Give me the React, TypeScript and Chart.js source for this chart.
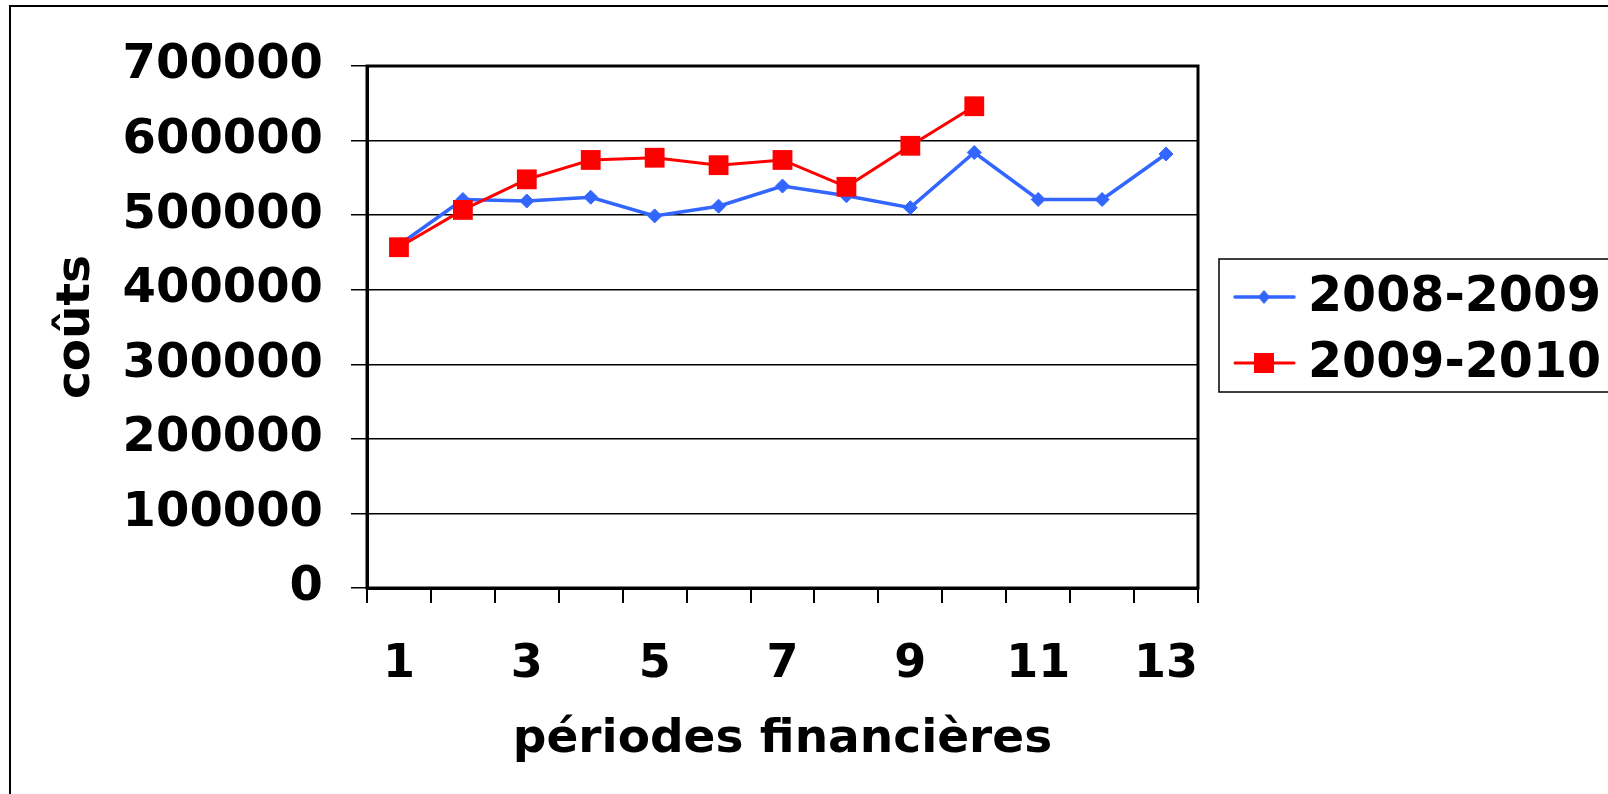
import React, { useEffect, useRef } from 'react';
import { Chart, registerables } from 'chart.js';

Chart.register(...registerables);

const periods = ['1', '2', '3', '4', '5', '6', '7', '8', '9', '10', '11', '12', '13'];
const costs20082009 = [460000, 521000, 519000, 524000, 499000, 512000, 539000, 526000, 510000, 584000, 521000, 521000, 582000];
const costs20092010 = [457000, 507000, 548000, 574000, 577000, 567000, 574000, 538000, 593000, 646000];
const seriesNames = ['2008-2009', '2009-2010'];
const yMin = 0;
const yMax = 700000;
const yStep = 100000;

const FONT = 'DejaVu Sans';
const BLUE = '#3366FF';
const RED = '#FF0000';

const frame = {
  id: 'frame',
  beforeDatasetsDraw(chart: any) {
    const { ctx, chartArea } = chart;
    ctx.save();
    ctx.strokeStyle = '#000';
    ctx.lineWidth = 3;
    ctx.strokeRect(chartArea.left, chartArea.top, chartArea.right - chartArea.left, chartArea.bottom - chartArea.top);
    ctx.restore();
  },
};

const legendBox = {
  id: 'legendBox',
  afterDraw(chart: any) {
    const { ctx } = chart;
    ctx.save();
    ctx.strokeStyle = '#000';
    ctx.lineWidth = 1.5;
    ctx.strokeRect(1219, 259, 390, 133);
    const rows = [
      { y: 297, color: BLUE, style: 'diamond', lw: 3.5 },
      { y: 363, color: RED, style: 'square', lw: 3 },
    ];
    rows.forEach((r, i) => {
      ctx.strokeStyle = r.color;
      ctx.fillStyle = r.color;
      ctx.lineWidth = r.lw;
      ctx.lineCap = 'round';
      ctx.beginPath();
      ctx.moveTo(1235, r.y);
      ctx.lineTo(1294, r.y);
      ctx.stroke();
      const cx = 1264;
      ctx.beginPath();
      if (r.style === 'diamond') {
        ctx.moveTo(cx - 6, r.y);
        ctx.lineTo(cx, r.y - 7);
        ctx.lineTo(cx + 6, r.y);
        ctx.lineTo(cx, r.y + 7);
        ctx.closePath();
      } else {
        ctx.rect(cx - 10, r.y - 10, 20, 20);
      }
      ctx.fill();
      ctx.fillStyle = '#000';
      ctx.font = `bold 49px "${FONT}"`;
      ctx.textAlign = 'left';
      ctx.textBaseline = 'middle';
      ctx.fillText(seriesNames[i], 1308, r.y + 1);
    });
    ctx.restore();
  },
};

export default function App() {
  const ref = useRef<HTMLCanvasElement>(null);
  useEffect(() => {
    if (!ref.current) return;
    const chart = new Chart(ref.current, {
      type: 'line',
      data: {
        labels: periods,
        datasets: [
          {
            label: seriesNames[0],
            data: costs20082009,
            borderColor: BLUE,
            backgroundColor: BLUE,
            borderWidth: 3.5,
            pointStyle: 'rectRot',
            pointRadius: 7,
            pointBorderWidth: 1,
            pointBorderColor: BLUE,
            pointBackgroundColor: BLUE,
            tension: 0,
            order: 1,
          },
          {
            label: seriesNames[1],
            data: costs20092010,
            borderColor: RED,
            backgroundColor: RED,
            borderWidth: 3,
            pointStyle: 'rect',
            pointRadius: 14,
            pointBorderWidth: 0,
            pointBackgroundColor: RED,
            tension: 0,
            order: 0,
          },
        ],
      },
      options: {
        animation: false,
        responsive: false,
        maintainAspectRatio: false,
        layout: { padding: { left: 49, top: 66, right: 410, bottom: 0 } },
        plugins: { legend: { display: false }, tooltip: { enabled: false } },
        scales: {
          x: {
            type: 'category',
            offset: true,
            grid: { offset: true, drawOnChartArea: false, drawTicks: true, tickLength: 15, color: '#000', lineWidth: 2 },
            border: { display: true, color: '#000', width: 3 },
            ticks: {
              autoSkip: false,
              maxRotation: 0,
              minRotation: 0,
              padding: 34,
              color: '#000',
              font: { family: FONT, size: 46, weight: 'bold' },
              callback: (_v: any, i: number) => (i % 2 === 0 ? periods[i] : ''),
            },
            title: {
              display: true,
              text: 'périodes financières',
              color: '#000',
              font: { family: FONT, size: 47, weight: 'bold' },
              padding: { top: 0, bottom: 26 },
            },
            afterFit: (s: any) => {
              s.height = 206;
            },
          },
          y: {
            min: yMin,
            max: yMax,
            ticks: {
              stepSize: yStep,
              padding: 28,
              color: '#000',
              font: { family: FONT, size: 48, weight: 'bold' },
              callback: (v: any) => String(v),
            },
            grid: { color: '#000', lineWidth: 1.5, tickLength: 16, drawTicks: true },
            border: { display: true, color: '#000', width: 3 },
            title: {
              display: true,
              text: 'coûts',
              color: '#000',
              font: { family: FONT, size: 47, weight: 'bold' },
              padding: { top: 0, bottom: 0 },
            },
            afterFit: (s: any) => {
              s.width = 318;
            },
          },
        },
      },
      plugins: [frame, legendBox],
    });
    return () => chart.destroy();
  }, []);

  return (
    <div style={{ position: 'fixed', left: 0, top: 0, width: 1608, height: 794, background: '#fff', overflow: 'hidden' }}>
      <div style={{ position: 'absolute', left: 9, top: 5, width: 1640, height: 840, border: '2px solid #000', boxSizing: 'border-box' }} />
      <canvas ref={ref} width={1608} height={794} style={{ position: 'absolute', left: 0, top: 0 }} />
    </div>
  );
}
